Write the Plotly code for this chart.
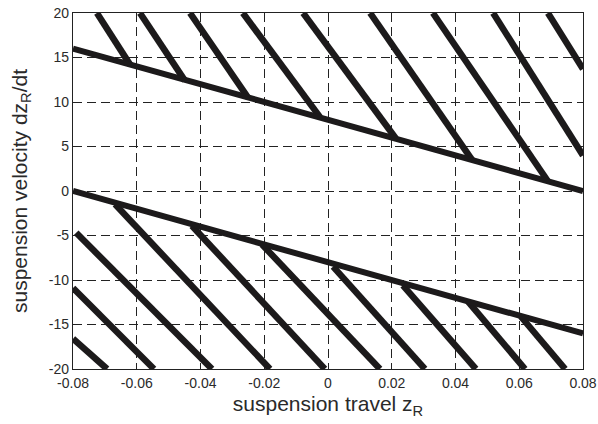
import plotly.graph_objects as go

# Boundary lines (switching lines)
upper_bound_x = [-0.08, 0.08]
upper_bound_y = [16, 0]
lower_bound_x = [-0.08, 0.08]
lower_bound_y = [0, -16]

# Upper hatch segments (start at top, end on boundary / right edge)
upper_hatch_x0 = [-0.0725, -0.0590, -0.0433, -0.0267, -0.0078, 0.0132, 0.0329, 0.0518, 0.0690]
upper_hatch_y0 = [20, 20, 20, 20, 20, 20, 20, 20, 20]
upper_hatch_x1 = [-0.0621, -0.0449, -0.0251, -0.0025, 0.0213, 0.0452, 0.0690, 0.0800, 0.0800]
upper_hatch_y1 = [14.2, 12.4, 10.5, 8.3, 5.9, 3.5, 1.1, 4.0, 13.7]

# Lower hatch segments (start on boundary / left edge, end at bottom)
lower_hatch_x0 = [-0.0800, -0.0800, -0.0790, -0.0668, -0.0427, -0.0207, 0.0016, 0.0235, 0.0439, 0.0605]
lower_hatch_y0 = [-16.6, -10.9, -4.7, -1.5, -3.9, -6.0, -8.5, -10.6, -12.4, -14.1]
lower_hatch_x1 = [-0.0693, -0.0546, -0.0364, -0.0182, -0.0010, 0.0163, 0.0304, 0.0464, 0.0618, 0.0744]
lower_hatch_y1 = [-20, -20, -20, -20, -20, -20, -20, -20, -20, -20]

x_ticks = [-0.08, -0.06, -0.04, -0.02, 0, 0.02, 0.04, 0.06, 0.08]
x_tick_labels = ["-0.08", "-0.06", "-0.04", "-0.02", "0", "0.02", "0.04", "0.06", "0.08"]
y_ticks = [-20, -15, -10, -5, 0, 5, 10, 15, 20]
y_tick_labels = ["-20", "-15", "-10", "-5", "0", "5", "10", "15", "20"]

LINE_COLOR = "#1c1a1b"
FONT = "Liberation Sans, Arial"

fig = go.Figure()

def add_segments(x0, y0, x1, y1, width):
    xs, ys = [], []
    for a, b, c, d in zip(x0, y0, x1, y1):
        xs += [a, c, None]
        ys += [b, d, None]
    fig.add_trace(go.Scatter(x=xs, y=ys, mode="lines",
                             line=dict(color=LINE_COLOR, width=width),
                             hoverinfo="skip", showlegend=False))

add_segments(upper_hatch_x0, upper_hatch_y0, upper_hatch_x1, upper_hatch_y1, 6.5)
add_segments(lower_hatch_x0, lower_hatch_y0, lower_hatch_x1, lower_hatch_y1, 6.5)

fig.add_trace(go.Scatter(x=upper_bound_x, y=upper_bound_y, mode="lines",
                         line=dict(color=LINE_COLOR, width=6), showlegend=False))
fig.add_trace(go.Scatter(x=lower_bound_x, y=lower_bound_y, mode="lines",
                         line=dict(color=LINE_COLOR, width=6), showlegend=False))

axis_common = dict(
    showgrid=True, gridcolor="#222222", gridwidth=1, griddash="9px,5px",
    showline=True, linecolor="#222222", linewidth=1.2, mirror=True,
    zeroline=False, ticks="", automargin=False,
    tickfont=dict(family=FONT, size=14, color="#2a2a2a"),
)

fig.update_xaxes(range=[-0.08, 0.08], tickvals=x_ticks, ticktext=x_tick_labels,
                 ticklabelstandoff=1,
                 title=dict(text="suspension travel z<sub>R</sub>",
                            font=dict(family=FONT, size=21, color="#2a2a2a"),
                            standoff=6),
                 **axis_common)
fig.update_yaxes(range=[-20, 20], tickvals=y_ticks, ticktext=y_tick_labels,
                 title=dict(text="suspension velocity dz<sub>R</sub>/dt",
                            font=dict(family=FONT, size=21, color="#2a2a2a"),
                            standoff=15),
                 **axis_common)

fig.update_layout(
    width=598, height=424,
    margin=dict(l=73, r=15, t=13, b=55, autoexpand=False),
    plot_bgcolor="white", paper_bgcolor="white",
    showlegend=False,
)

fig.write_html("out.html")
